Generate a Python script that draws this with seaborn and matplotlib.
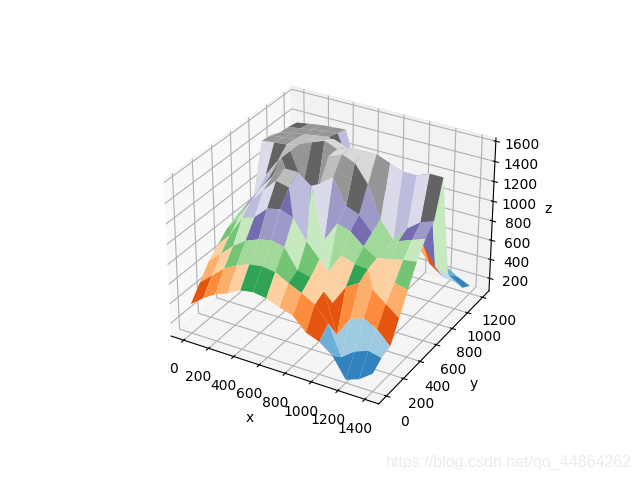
import numpy as np
import seaborn as sns
import matplotlib.pyplot as plt

x = [0, 100, 200, 300, 400, 500, 600, 700, 800, 900, 1000, 1100, 1200, 1300, 1400]
y = [0, 100, 200, 300, 400, 500, 600, 700, 800, 900, 1000, 1100, 1200]
z = [
    [370, 470, 550, 600, 670, 690, 670, 620, 580, 450, 400, 300, 100, 150, 250],
    [510, 620, 730, 800, 850, 870, 850, 780, 720, 650, 500, 200, 300, 350, 320],
    [650, 760, 880, 970, 1020, 1050, 1020, 830, 800, 700, 300, 500, 550, 480, 350],
    [740, 880, 1080, 1130, 1250, 1280, 1230, 1040, 900, 500, 700, 780, 750, 650, 550],
    [830, 980, 1180, 1320, 1450, 1420, 400, 1300, 700, 900, 850, 840, 380, 780, 750],
    [880, 1060, 1230, 1390, 1500, 1500, 1400, 900, 1100, 1060, 950, 870, 900, 930, 950],
    [910, 1090, 1270, 1500, 1200, 1100, 1350, 1450, 1200, 1150, 1010, 880, 1000, 1050, 1100],
    [950, 1190, 1370, 1500, 1200, 1100, 1550, 1600, 1550, 1380, 1070, 900, 1050, 1150, 1200],
    [1430, 1450, 1460, 1500, 1550, 1600, 1550, 1600, 1600, 1600, 1550, 1500, 1500, 1550, 1550],
    [1420, 1430, 1450, 1480, 1500, 1550, 1510, 1430, 1300, 1200, 980, 850, 750, 550, 500],
    [1380, 1410, 1430, 1450, 1470, 1320, 1280, 1200, 1080, 940, 780, 620, 460, 370, 350],
    [1370, 1390, 1410, 1430, 1440, 1140, 1110, 1050, 950, 820, 690, 540, 380, 300, 210],
    [1350, 1370, 1390, 1400, 1410, 960, 940, 880, 800, 690, 570, 430, 290, 210, 150],
]

X, Y = np.meshgrid(x, y)
Z = np.array(z)

fig = plt.figure(figsize=(6.4, 4.8))
ax = fig.add_subplot(projection='3d')
ax.plot_surface(X, Y, Z, rstride=1, cstride=1, cmap=sns.color_palette("tab20c", as_cmap=True))
ax.set_xlabel('x')
ax.set_ylabel('y')
ax.set_zlabel('z')

fig.text(0.987, 0.0375, 'https://blog.csdn.net/qq_44864262', ha='right', va='center',
         fontsize=11.5, color='#ececec', family='Liberation Sans')

fig.savefig('out.png', dpi=100)
